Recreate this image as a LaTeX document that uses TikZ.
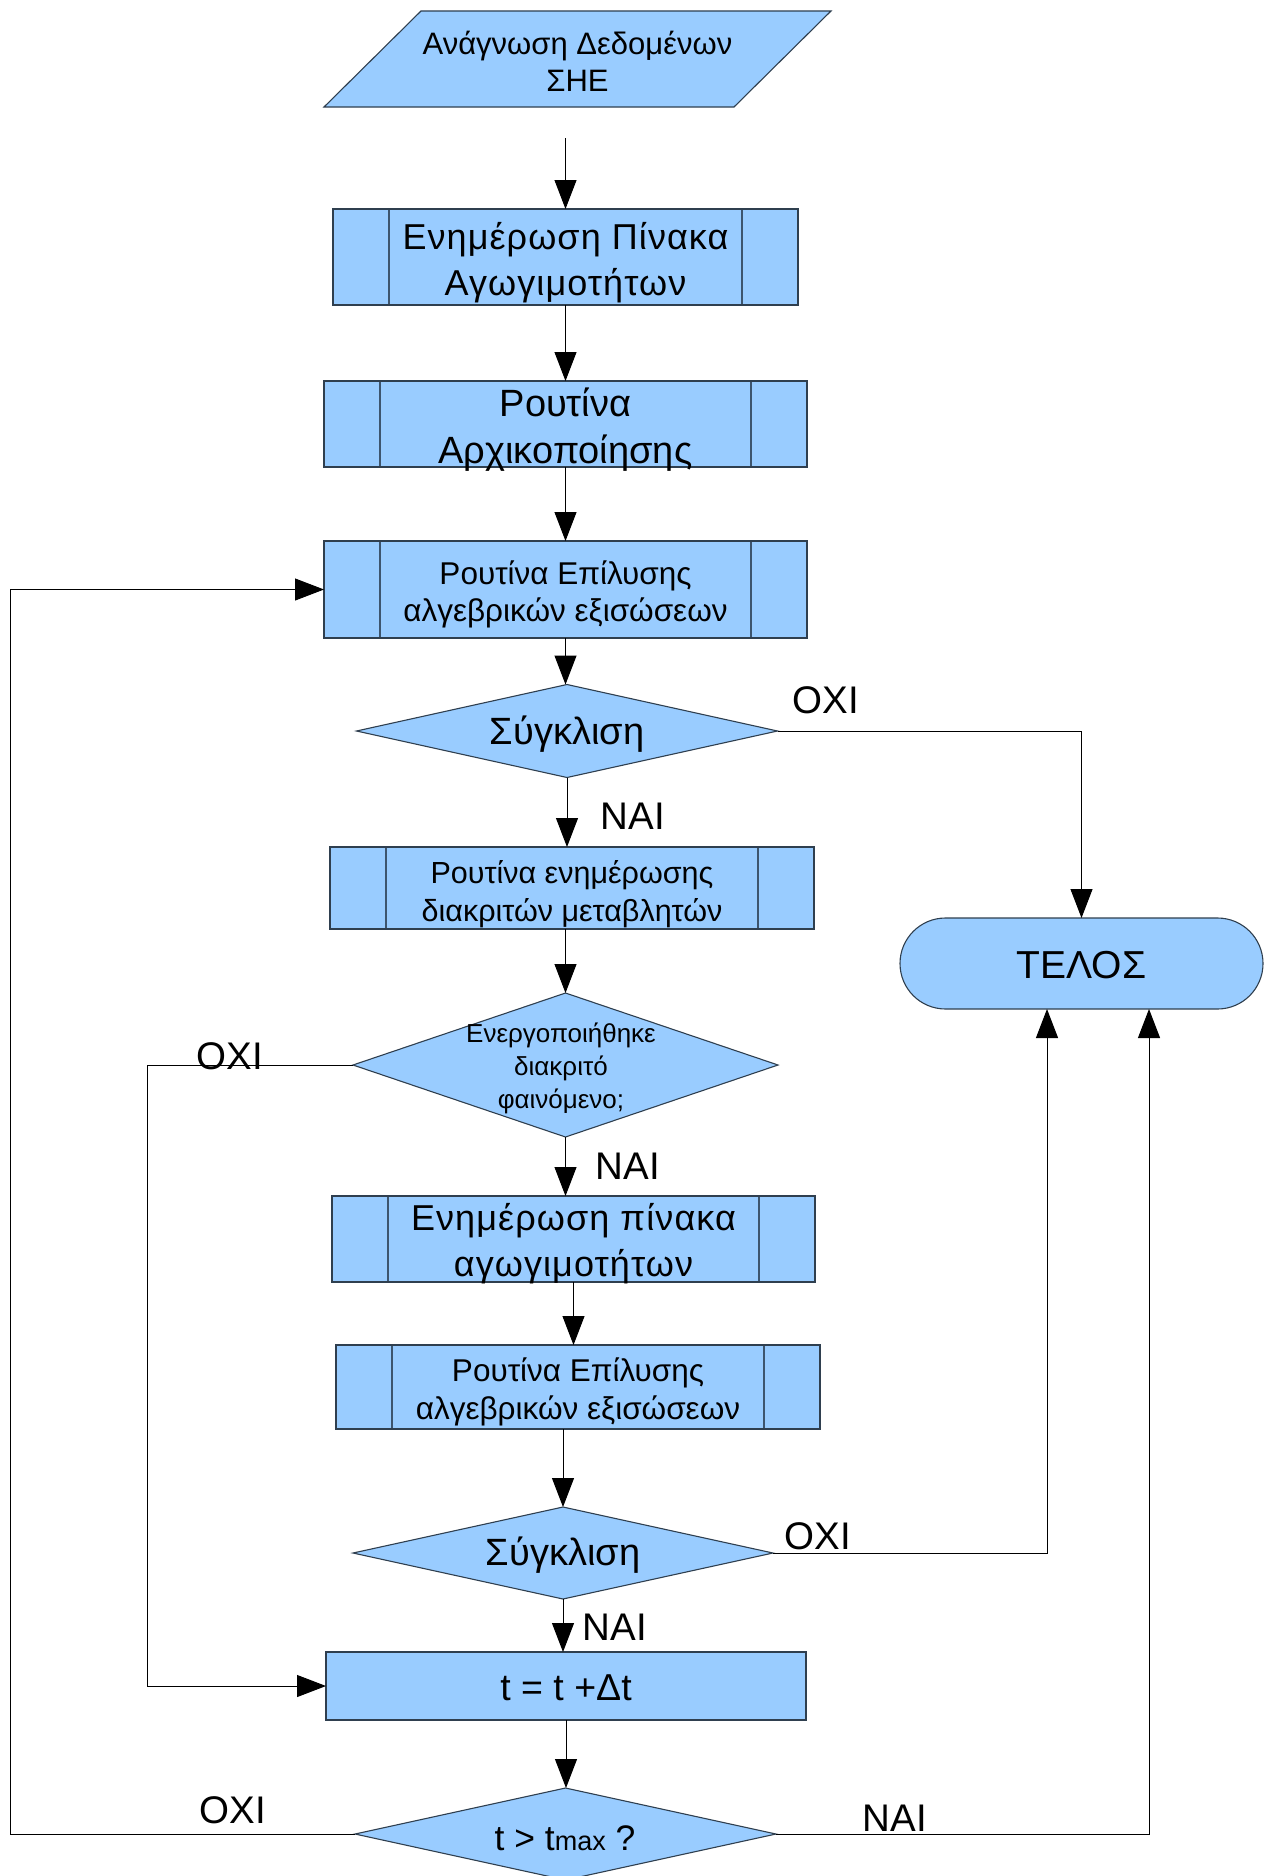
\documentclass[tikz,border=0pt]{standalone}
\usepackage{fontspec}
\setmainfont{Liberation Sans}
\usetikzlibrary{shapes.geometric,shapes.misc,arrows.meta}
\definecolor{boxfill}{HTML}{99CCFF}
\definecolor{boxline}{HTML}{2F3F4F}
\definecolor{innerline}{HTML}{3D556E}
\newcommand{\fsz}[2]{\fontsize{#1}{#2}\selectfont}
\newcommand{\wide}{\addfontfeature{LetterSpace=3}}
\begin{document}
\begin{tikzpicture}[x=1pt,y=-1pt,
  every node/.style={inner sep=0pt,outer sep=0pt,align=center},
  fig/.style={draw=boxline,fill=boxfill,line width=1.1pt},
  subproc/.style={fig,rectangle,
    path picture={\draw[innerline,line width=1.2pt]
      ([xshift=56pt]path picture bounding box.north west) -- ([xshift=56pt]path picture bounding box.south west)
      ([xshift=-56pt]path picture bounding box.north east) -- ([xshift=-56pt]path picture bounding box.south east);}},
  plainbox/.style={fig,rectangle},
  decision/.style={fig,diamond,aspect=4.5},
  iobox/.style={rectangle,draw=none},
  terminal/.style={fig,rounded rectangle},
  arr/.style={draw=black,line width=1pt,-{Triangle[length=29pt,width=22pt]}},
  lbl/.style={font=\fsz{38.5}{44}}]

\useasboundingbox (0,0) rectangle (1271,1876);

% input: slanted data box drawn on the frame of an empty node
\node[iobox,minimum width=507pt,minimum height=96pt] (rd) at (577.5,59) {};
\draw[fig] ([xshift=97pt]rd.north west) -- (rd.north east)
  -- ([xshift=-97pt]rd.south east) -- (rd.south west) -- cycle;
\node[font=\fsz{31}{37}] (rdt) at ([yshift=-2.5pt]rd) {Ανάγνωση Δεδομένων\\ΣΗΕ};

% process chain
\node[subproc,minimum width=465pt,minimum height=96pt] (b1) at (565.5,257) {};
\node[font=\fsz{36}{46}\wide] (b1t) at ([yshift=-6pt]b1) {Ενημέρωση Πίνακα\\Αγωγιμοτήτων};

\node[subproc,minimum width=483pt,minimum height=86pt] (b2) at (565.5,424) {};
\node[font=\fsz{38}{47}] (b2t) at ([yshift=-6pt]b2) {Ρουτίνα\\Αρχικοποίησης};

\node[subproc,minimum width=483pt,minimum height=97pt] (b3) at (565.5,589.5) {};
\node[font=\fsz{31.5}{37}] (b3t) at ([yshift=-5pt]b3) {Ρουτίνα Επίλυσης\\αλγεβρικών εξισώσεων};

\node[decision,minimum width=421pt,minimum height=93pt] (d1) at (567,731) {};
\node[font=\fsz{38}{44}] (d1t) at ([yshift=-3pt]d1) {Σύγκλιση};

\node[subproc,minimum width=484pt,minimum height=82pt] (b4) at (572,888) {};
\node[font=\fsz{30.5}{38}] (b4t) at ([yshift=-6pt]b4) {Ρουτίνα ενημέρωσης\\διακριτών μεταβλητών};

\node[decision,minimum width=425pt,minimum height=144pt] (d2) at (565.5,1065) {};
\node[font=\fsz{26}{33}] (d2t) at (561,1068) {Ενεργοποιήθηκε\\διακριτό\\φαινόμενο;};

\node[subproc,minimum width=483pt,minimum height=86pt] (b5) at (573.5,1239) {};
\node[font=\fsz{36}{46}\wide] (b5t) at ([yshift=-5pt]b5) {Ενημέρωση πίνακα\\αγωγιμοτήτων};

\node[subproc,minimum width=484pt,minimum height=84pt] (b6) at (578,1387) {};
\node[font=\fsz{31.5}{38}] (b6t) at ([yshift=-5pt]b6) {Ρουτίνα Επίλυσης\\αλγεβρικών εξισώσεων};

\node[decision,minimum width=420pt,minimum height=92pt] (d3) at (563,1553) {};
\node[font=\fsz{38}{44}] (d3t) at ([yshift=-2pt]d3) {Σύγκλιση};

\node[plainbox,minimum width=480pt,minimum height=68pt] (b7) at (566,1686) {};
\node[font=\fsz{37.5}{44}] (b7t) at ([yshift=-2pt]b7) {t = t +Δt};

\node[decision,minimum width=421pt,minimum height=92pt] (d4) at (565.5,1834) {};
\node[font=\fsz{35.5}{42}] (d4t) at (565,1838) {t > t{\fsz{27}{30}max} ?};

% end
\node[terminal,minimum width=363pt,minimum height=91pt] (end) at (1081.5,963.5) {};
\node[font=\fsz{39}{44}] (endt) at ([yshift=-2pt]end) {ΤΕΛΟΣ};

% loop columns
\coordinate (loopA) at (147,0);
\coordinate (loopB) at (10,0);

% main flow
\draw[arr] ([yshift=-31pt]rd.south -| b1.north) -- (b1.north);
\draw[arr] (b1.south) -- (b2.north);
\draw[arr] (b2.south) -- (b3.north);
\draw[arr] (b3.south) -- (b3.south |- d1.north);
\draw[arr] (d1.south) -- (d1.south |- b4.north);
\draw[arr] (b4.south -| d2.north) -- (d2.north);
\draw[arr] (d2.south) -- (d2.south |- b5.north);
\draw[arr] (b5.south) -- (b5.south |- b6.north);
\draw[arr] (b6.south -| d3.north) -- (d3.north);
\draw[arr] (d3.south) -- (d3.south |- b7.north);
\draw[arr] (b7.south) -- (b7.south |- d4.north);

% branches
\draw[arr] (d1.east) -| (end.north);
\draw[arr] (d3.east) -| ([xshift=-34.5pt]end.south);
\draw[arr] (d4.east) -| ([xshift=67.5pt]end.south);
\draw[arr] (d2.west) -- (d2.west -| loopA) |- (b7.west);
\draw[arr] (d4.west) -- (d4.west -| loopB) |- (b3.west);

% branch labels
\node[lbl] (n1) at (826,700) {ΟΧΙ};
\node[lbl] (y1) at (633,816) {ΝΑΙ};
\node[lbl] (n2) at (230,1056) {ΟΧΙ};
\node[lbl] (y2) at (628,1166) {ΝΑΙ};
\node[lbl] (n3) at (818,1536) {ΟΧΙ};
\node[lbl] (y3) at (615,1627) {ΝΑΙ};
\node[lbl] (n4) at (233,1810) {ΟΧΙ};
\node[lbl] (y4) at (895,1818) {ΝΑΙ};
\end{tikzpicture}
\end{document}
